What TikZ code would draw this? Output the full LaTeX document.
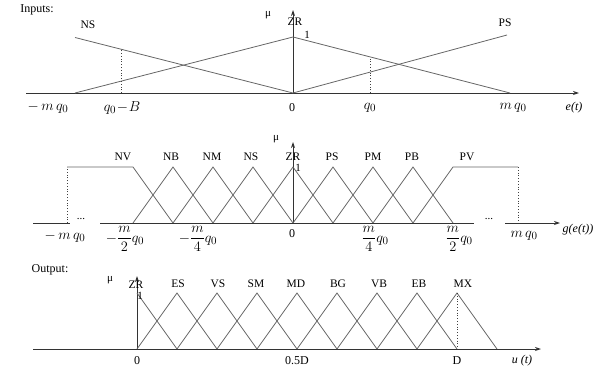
\documentclass[tikz,border=0pt]{standalone}
\usepackage{fontspec}
\setmainfont{Liberation Serif}
\usetikzlibrary{arrows.meta}
\begin{document}
\begin{tikzpicture}[x=1pt,y=-1pt,
  axis/.style={draw=black!80, line width=0.9pt},
  axarrow/.style={axis, -{Stealth[length=6pt,width=4pt]}},
  mf/.style={draw=black!60, line width=0.8pt},
  guide/.style={draw=black!75, dotted, line width=0.8pt},
  lab/.style={font=\fontsize{11.5}{13}\selectfont, inner sep=0pt},
  small/.style={font=\fontsize{11}{12}\selectfont, inner sep=0pt},
  tick/.style={font=\fontsize{15}{17}\selectfont, inner sep=0pt},
  ttext/.style={font=\fontsize{12}{14}\selectfont, inner sep=0pt},
  itext/.style={font=\fontsize{12}{14}\selectfont\itshape, inner sep=0pt},
]
\useasboundingbox (0,0) rectangle (605,372);

% ---------------- Panel 1: inputs ----------------
\coordinate (o1) at (293,93);
\coordinate (a1l) at (26,93);
\coordinate (a1r) at (579,93);
\coordinate (y1) at (293,10);
\draw[axis] (a1l) -- (o1);
\draw[axarrow] (o1) -- (a1r);
\draw[axarrow] (o1) -- (y1);
\coordinate (ns1a) at (75,37.5);  \coordinate (ns1b) at (293,93);
\coordinate (zr1a) at (75,93);    \coordinate (zr1p) at (293,37); \coordinate (zr1b) at (510,93);
\coordinate (ps1a) at (293,93);   \coordinate (ps1b) at (507,35);
\draw[mf] (ns1a) -- (ns1b);
\draw[mf] (zr1a) -- (zr1p) -- (zr1b);
\draw[mf] (ps1a) -- (ps1b);
\coordinate (d1a) at (121,93); \coordinate (d1b) at (121,49.5);
\coordinate (d2a) at (370,93); \coordinate (d2b) at (370,57);
\draw[guide] (d1a) -- (d1b);
\draw[guide] (d2a) -- (d2b);

\node[ttext] (inputs) at (37,10) {Inputs:};
\node[lab] (lns1) at (88,25) {NS};
\node[lab] (lzr1) at (295,22) {ZR};
\node[lab] (lps1) at (505,23) {PS};
\node[small] (mu1) at (268,15) {μ};
\node[small] (one1) at (307,35) {1};
\node[tick] (t1a) at (48,108) {$-\,m\,q_0$};
\node[tick] (t1b) at (122,108) {$q_0\!-\!B$};
\node[ttext] (t1c) at (292,108) {0};
\node[tick] (t1d) at (370,108) {$q_0$};
\node[tick] (t1e) at (513,108) {$m\,q_0$};
\node[itext] (t1f) at (574,108) {e(t)};

% ---------------- Panel 2: g(e(t)) ----------------
\coordinate (o2) at (293,223);
\coordinate (a2l) at (33,223);
\coordinate (a2g1) at (70,223);
\coordinate (a2g2) at (100,223);
\coordinate (a2g3) at (474,223);
\coordinate (a2g4) at (505,223);
\coordinate (a2r) at (560,223);
\coordinate (y2) at (293,142);
\draw[axis] (a2l) -- (a2g1);
\draw[axis] (a2g2) -- (a2g3);
\draw[axarrow] (a2g4) -- (a2r);
\draw[axarrow] (o2) -- (y2);
\node[small] (dots2a) at (81,219) {...};
\node[small] (dots2b) at (489,219) {...};
% NV
\coordinate (nvd) at (67,223); \coordinate (nvl) at (67,167); \coordinate (nvr) at (133,167); \coordinate (nvb) at (173,223);
\draw[mf] (nvl) -- (nvr) -- (nvb);
\draw[guide] (nvd) -- (nvl);
% triangles
\foreach \c/\n in {173/nb,213/nm,253/ns,293/zr,333/ps,373/pm,413/pb}{
  \coordinate (\n2l) at ({\c-40},223);
  \coordinate (\n2p) at (\c,167);
  \coordinate (\n2r) at ({\c+40},223);
  \draw[mf] (\n2l) -- (\n2p) -- (\n2r);
}
% PV
\coordinate (pva) at (413,223); \coordinate (pvl) at (453,167); \coordinate (pvr) at (518,167); \coordinate (pvd) at (518,223);
\draw[mf] (pva) -- (pvl) -- (pvr);
\draw[guide] (pvr) -- (pvd);

\node[small] (mu2) at (276,139) {μ};
\node[small] (one2) at (298,168) {1};
\node[lab] (lnv) at (123,157) {NV};
\node[lab] (lnb) at (171,157) {NB};
\node[lab] (lnm) at (212,157) {NM};
\node[lab] (lns2) at (251,157) {NS};
\node[lab] (lzr2) at (293,157) {ZR};
\node[lab] (lps2) at (332,157) {PS};
\node[lab] (lpm) at (373,157) {PM};
\node[lab] (lpb) at (412,157) {PB};
\node[lab] (lpv) at (467,157) {PV};
\node[tick] (t2a) at (65,237) {$-\,m\,q_0$};
\node[tick] (t2b) at (125,239) {$\displaystyle -\frac{m}{2}q_0$};
\node[tick] (t2c) at (198,239) {$\displaystyle -\frac{m}{4}q_0$};
\node[ttext] (t2d) at (292,234) {0};
\node[tick] (t2e) at (375,239) {$\displaystyle \frac{m}{4}q_0$};
\node[tick] (t2f) at (459,239) {$\displaystyle \frac{m}{2}q_0$};
\node[tick] (t2g) at (524,236) {$m\,q_0$};
\node[itext] (t2h) at (578,230) {g(e(t))};

% ---------------- Panel 3: output ----------------
\coordinate (o3) at (137,349);
\coordinate (a3l) at (33,349);
\coordinate (a3r) at (541,349);
\coordinate (y3) at (137,276);
\draw[axis] (a3l) -- (o3);
\draw[axarrow] (o3) -- (a3r);
\draw[axarrow] (o3) -- (y3);
\coordinate (zr3p) at (137,293); \coordinate (zr3r) at (177,349);
\draw[mf] (zr3p) -- (zr3r);
\foreach \c/\n in {177/es,217/vs,257/sm,297/md,337/bg,377/vb,417/eb,457/mx}{
  \coordinate (\n3l) at ({\c-40},349);
  \coordinate (\n3p) at (\c,293);
  \coordinate (\n3r) at ({\c+40},349);
  \draw[mf] (\n3l) -- (\n3p) -- (\n3r);
}
\coordinate (mx3d) at (457,349);
\draw[guide] (mx3p) -- (mx3d);

\node[ttext] (output) at (50,270) {Output:};
\node[small] (mu3) at (110,280) {μ};
\node[small] (one3) at (140,296) {1};
\node[lab] (lzr3) at (136,285) {ZR};
\node[lab] (les) at (178,284) {ES};
\node[lab] (lvs) at (218,284) {VS};
\node[lab] (lsm) at (256,284) {SM};
\node[lab] (lmd) at (296,284) {MD};
\node[lab] (lbg) at (338,284) {BG};
\node[lab] (lvb) at (379,284) {VB};
\node[lab] (leb) at (419,284) {EB};
\node[lab] (lmx) at (463,284) {MX};
\node[ttext] (t3a) at (137,361) {0};
\node[ttext] (t3b) at (297,361) {0.5D};
\node[ttext] (t3c) at (457,361) {D};
\node[itext] (t3d) at (522,361) {u (t)};
\end{tikzpicture}
\end{document}
